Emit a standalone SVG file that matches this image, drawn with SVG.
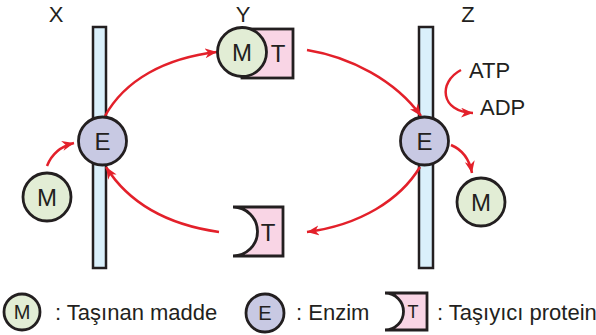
<svg xmlns="http://www.w3.org/2000/svg" width="596" height="335" viewBox="0 0 596 335">
  <style>
    .lbl { font-family: "Liberation Sans", Arial, sans-serif; font-size: 22px; fill: #231f20; }
    .big { font-size: 24px; }
    .sm { font-size: 20px; }
    .mid { text-anchor: middle; }
    .bar { fill: #daf0fb; stroke: #231f20; stroke-width: 2.5; }
    .enz { fill: #c8c9e3; stroke: #231f20; stroke-width: 2.8; }
    .sub { fill: #e2edd5; stroke: #231f20; stroke-width: 2.8; }
    .tp { fill: #f9d5e5; stroke: #231f20; stroke-width: 2.8; stroke-linejoin: miter; }
    .arr { fill: none; stroke: #e3202a; stroke-width: 2.5; marker-end: url(#head); }
  </style>
  <defs>
    <marker id="head" markerUnits="userSpaceOnUse" markerWidth="14" markerHeight="12" refX="12" refY="5" orient="auto">
      <path d="M0,0 L12,5 L0,10 L3.5,5 Z" fill="#e3202a"/>
    </marker>
  </defs>
  <rect width="596" height="335" fill="#ffffff"/>

  <!-- column labels -->
  <text class="lbl mid" x="56" y="22">X</text>
  <text class="lbl mid" x="243" y="22">Y</text>
  <text class="lbl mid" x="468" y="22">Z</text>

  <!-- membranes -->
  <g id="membrane-x"><rect class="bar" x="93" y="27" width="13" height="241"/></g>
  <g id="membrane-z"><rect class="bar" x="419" y="27" width="14" height="241"/></g>

  <!-- connectors -->
  <g id="connectors">
    <path class="arr" d="M47,166 Q54,148 74,143"/>
    <path class="arr" d="M105,116 C125,80 165,58 217,52"/>
    <path class="arr" d="M307,50 C350,57 395,80 421,116"/>
    <path class="arr" d="M461,70 C438,82 440,112 473,113"/>
    <path class="arr" d="M451,145 Q468,152 472,173"/>
    <path class="arr" d="M420,167 C400,200 360,225 307,232"/>
    <path class="arr" d="M219,232 C170,225 130,205 106,167"/>
  </g>

  <!-- enzyme on membrane X -->
  <g id="enzyme-x">
    <circle class="enz" cx="102.5" cy="141" r="24"/>
    <text class="lbl big mid" x="102.5" y="150">E</text>
  </g>

  <!-- substance outside X -->
  <g id="substance-x">
    <circle class="sub" cx="47" cy="197" r="24"/>
    <text class="lbl big mid" x="47" y="206">M</text>
  </g>

  <!-- carrier loaded with substance -->
  <g id="carrier-loaded">
    <rect class="tp" x="242" y="29" width="51" height="49"/>
    <text class="lbl big mid" x="278" y="62">T</text>
    <circle class="sub" cx="242" cy="52" r="24.5"/>
    <text class="lbl big mid" x="242" y="61">M</text>
  </g>

  <!-- enzyme on membrane Z -->
  <g id="enzyme-z">
    <circle class="enz" cx="424.5" cy="141" r="24"/>
    <text class="lbl big mid" x="424.5" y="150">E</text>
  </g>

  <!-- energy -->
  <g id="energy">
    <text class="lbl" x="469" y="78">ATP</text>
    <text class="lbl" x="480" y="115">ADP</text>
  </g>

  <!-- released substance -->
  <g id="substance-z">
    <circle class="sub" cx="481" cy="202" r="24"/>
    <text class="lbl big mid" x="481" y="211">M</text>
  </g>

  <!-- empty carrier -->
  <g id="carrier-empty">
    <path class="tp" d="M233,207 L283,207 L283,256 L233,256 A24.5,24.5 0 0 0 233,207 Z"/>
    <text class="lbl big mid" x="268" y="240.5">T</text>
  </g>

  <!-- legend -->
  <g id="legend-m">
    <circle class="sub" cx="22" cy="312" r="18"/>
    <text class="lbl sm mid" x="22" y="319">M</text>
    <text class="lbl" x="55" y="320">: Taşınan madde</text>
  </g>
  <g id="legend-e">
    <circle class="enz" cx="265" cy="313" r="19"/>
    <text class="lbl sm mid" x="265" y="320">E</text>
    <text class="lbl" x="296" y="320">: Enzim</text>
  </g>
  <g id="legend-t">
    <path class="tp" d="M385,293 L427,293 L427,330 L385,330 A18.5,18.5 0 0 0 385,293 Z"/>
    <text class="lbl mid" x="413" y="318" style="font-size:18px">T</text>
    <text class="lbl" x="437" y="320">: Taşıyıcı protein</text>
  </g>
</svg>
